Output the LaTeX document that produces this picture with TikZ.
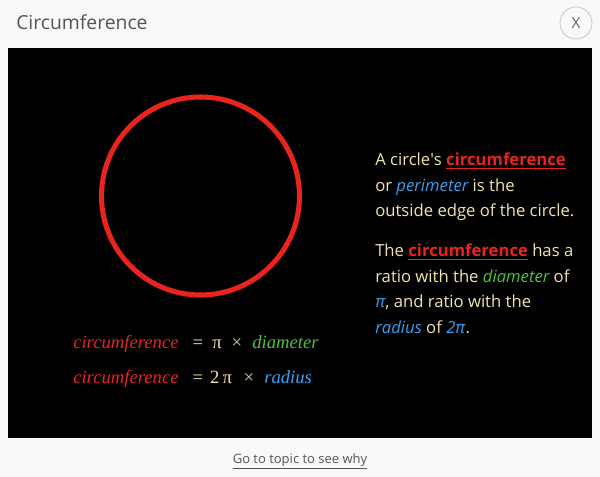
\documentclass[tikz,border=0pt]{standalone}
\usepackage{fontspec}
\setmainfont{Open Sans}
\newfontfamily\eqfont{Liberation Serif}
\usetikzlibrary{positioning}

\definecolor{pagebg}{HTML}{F9F9F9}
\definecolor{titlegray}{HTML}{555555}
\definecolor{ringred}{HTML}{E8251D}
\definecolor{creamtxt}{HTML}{F2E4AC}
\definecolor{skyblue}{HTML}{3A9FEC}
\definecolor{leafgreen}{HTML}{4FC23A}

\tikzset{
  txt/.style={anchor=base west, inner sep=0pt, text=creamtxt,
    font=\fontsize{12.5}{19}\selectfont},
  eq/.style={anchor=base, inner sep=0pt, font=\eqfont\fontsize{14}{16}\selectfont},
}
\newcommand{\redword}[1]{\textcolor{ringred}{\bfseries\underline{#1}}}
\newcommand{\blueword}[1]{\textcolor{skyblue}{\itshape #1}}
\newcommand{\greenword}[1]{\textcolor{leafgreen}{\itshape #1}}

\begin{document}
\begin{tikzpicture}[x=0.75pt, y=-0.75pt]
  % page and panel
  \fill[pagebg] (0,0) rectangle (600,477);
  \useasboundingbox (0,0) rectangle (600,477);
  \fill[black] (8,48) rectangle (592,438);

  % header
  \node[anchor=base west, inner sep=0pt, text=titlegray,
    font=\fontsize{14.5}{16}\selectfont] (title) at (16,30) {Circumference};
  \draw[gray!45, line width=0.6pt] (576,23) circle (16);
  \node[text=titlegray!90, font=\fontsize{11.5}{13}\selectfont, inner sep=0pt]
    (close) at (576,23) {X};

  % the circle
  \draw[ringred, line width=3.8pt] (200.5,196) circle (99);

  % equations
  \node[eq, anchor=base west, text=ringred] (c1) at (73,349) {\itshape circumference};
  \node[eq, text=creamtxt] (eq1) at (198,349) {=};
  \node[eq, text=creamtxt] (pi1) at (217,349) {π};
  \node[eq, text=creamtxt!80!gray] (x1) at (237,349) {×};
  \node[eq, anchor=base west, text=leafgreen] (d1) at (252,349) {\itshape diameter};

  \node[eq, anchor=base west, text=ringred] (c2) at (73,383) {\itshape circumference};
  \node[eq, text=creamtxt] (eq2) at (198,383) {=};
  \node[eq, text=creamtxt] (pi2) at (221,383) {2\,π};
  \node[eq, text=creamtxt!80!gray] (x2) at (249,383) {×};
  \node[eq, anchor=base west, text=skyblue] (r2) at (264,383) {\itshape radius};

  % explanation, first paragraph
  \node[txt] (p1a) at (375,166) {A circle\textquotesingle s \redword{circumference}};
  \node[txt] (p1b) at (375,191.5) {or \blueword{perimeter} is the};
  \node[txt] (p1c) at (375,217) {outside edge of the circle.};
  % second paragraph
  \node[txt] (p2a) at (375,257) {The \redword{circumference} has a};
  \node[txt] (p2b) at (375,282.5) {ratio with the \greenword{diameter} of};
  \node[txt] (p2c) at (375,308) {\blueword{π}, and ratio with the};
  \node[txt] (p2d) at (375,333.5) {\blueword{radius} of \blueword{2π}.};

  % footer link
  \node[anchor=base, inner sep=0pt, text=titlegray,
    font=\fontsize{9.75}{12}\selectfont] (link) at (300,463)
    {\underline{Go to topic to see why}};
\end{tikzpicture}
\end{document}
